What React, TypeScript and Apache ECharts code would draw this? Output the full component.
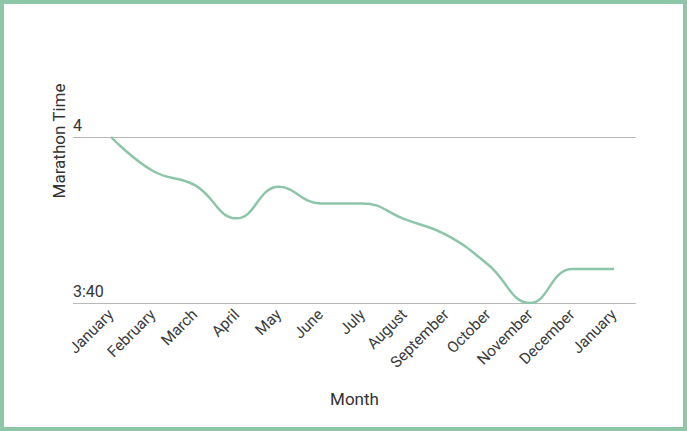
import React, { useEffect, useRef } from "react";
import * as echarts from "echarts";

const months = [
  "January", "February", "March", "April", "May", "June", "July",
  "August", "September", "October", "November", "December", "January",
];
// marathon time in minutes
const times = [240, 235.9, 234.2, 230.2, 234, 232, 232, 230.1, 228.2, 224.6, 220, 224.1, 224.1];
const yTicks = [220, 240];
const yTickLabels = ["3:40", "4"];

export default function App() {
  const ref = useRef<HTMLDivElement>(null);
  useEffect(() => {
    if (!ref.current) return;
    const chart = echarts.init(ref.current, null, { renderer: "svg" });
    const font = "Roboto, Arial, sans-serif";
    chart.setOption({
      animation: false,
      grid: { left: 69, right: 47, top: 133, bottom: 124, containLabel: false },
      xAxis: {
        type: "value",
        min: -0.907,
        max: 12.525,
        axisLine: { show: false },
        axisTick: { show: false },
        splitLine: { show: false },
        axisLabel: {
          customValues: months.map((_, i) => i),
          formatter: (v: number) => months[Math.round(v)] ?? "",
          rotate: 45,
          fontFamily: font,
          fontSize: 15.5,
          color: "#3a3a3a",
          margin: 9,
        },
        name: "Month",
        nameLocation: "middle",
        nameGap: 87,
        nameTextStyle: { fontFamily: font, fontSize: 17, color: "#333" },
      },
      yAxis: {
        type: "value",
        min: 220,
        max: 240,
        interval: 20,
        axisLine: { show: false },
        axisTick: { show: false },
        splitLine: { lineStyle: { color: "#b8b8b8", width: 1 } },
        axisLabel: {
          inside: true,
          align: "left",
          verticalAlign: "bottom",
          margin: 0,
          padding: [0, 0, 4, 0],
          fontFamily: font,
          fontSize: 16,
          color: "#333",
          formatter: (v: number) => {
            const i = yTicks.indexOf(v);
            return i >= 0 ? yTickLabels[i] : "";
          },
        },
      },
      graphic: [
        {
          type: "text",
          x: 55,
          y: 137,
          rotation: Math.PI / 2,
          style: {
            text: "Marathon Time",
            fontFamily: font,
            fontSize: 17,
            fill: "#333",
            align: "center",
            verticalAlign: "middle",
          },
        },
      ],
      series: [
        {
          type: "line",
          data: times.map((t, i) => [i, t]),
          smooth: 0.45,
          showSymbol: false,
          symbol: "none",
          lineStyle: { color: "#8cc5a8", width: 2.5 },
        },
      ],
    });
    return () => chart.dispose();
  }, []);
  return (
    <div
      style={{
        position: "fixed",
        left: 0,
        top: 0,
        width: 687,
        height: 431,
        boxSizing: "border-box",
        border: "4px solid #8ec6a8",
        background: "#fff",
      }}
    >
      <div ref={ref} style={{ width: 679, height: 423 }} />
    </div>
  );
}
